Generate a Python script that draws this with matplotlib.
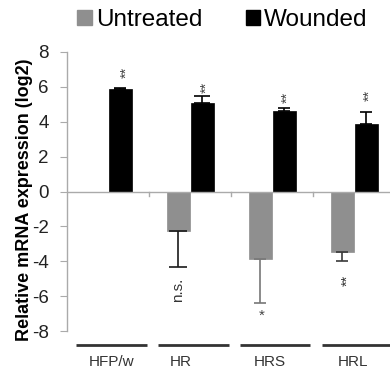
import matplotlib
matplotlib.use("Agg")
import matplotlib.pyplot as plt
from matplotlib.patches import Patch
import numpy as np

categories = ["HFP/w", "HR", "HRS", "HRL"]
untreated = [0.0, -2.24, -3.85, -3.45]
untreated_err = [0.0, 2.1, 2.52, 0.55]
wounded = [5.88, 5.05, 4.63, 3.85]
wounded_err = [0.05, 0.42, 0.17, 0.72]
wounded_sig = ["**", "**", "**", "**"]
untreated_sig = ["", "n.s.", "*", "**"]
yticks = [-8, -6, -4, -2, 0, 2, 4, 6, 8]

plt.rcParams['font.family'] = ['Liberation Sans', 'DejaVu Sans']

W, H = 390, 369
fig = plt.figure(figsize=(W/100, H/100), dpi=100)
left, right = 67, 390
bottom, top = 331, 52
ax = fig.add_axes([left/W, (H-bottom)/H, (right-left)/W, (bottom-top)/H])

x = np.arange(len(categories))
bw = 0.28
gx = x - 0.14
wx = x + 0.15
gray = "#8f8f8f"
ax.bar(gx, untreated, bw, color=gray, edgecolor=gray, linewidth=0.5)
ax.bar(wx, wounded, bw, color="black", edgecolor="black", linewidth=0.5)

# one-sided error bars
u_ecol = ["#333333", "#1a1a1a", "#777777", "#3a3a3a"]
u_cap = [4, 6.5, 4, 4]
w_cap = [4, 5.5, 4, 4]
for i in range(len(categories)):
    if untreated_err[i] > 0:
        ax.errorbar(gx[i], untreated[i], yerr=[[untreated_err[i]], [0]],
                    fmt="none", ecolor=u_ecol[i], elinewidth=1.2,
                    capsize=u_cap[i], capthick=1.2)
    ax.errorbar(wx[i], wounded[i], yerr=[[0], [wounded_err[i]]],
                fmt="none", ecolor="black", elinewidth=1.2,
                capsize=w_cap[i], capthick=1.2)

# significance labels (gap above / below the error bar ends, in data units)
w_gap = [0.6, 0.2, 0.3, 0.6]
w_dx = [0.08, 0.05, 0.04, 0.04]
for i in range(len(categories)):
    ax.text(wx[i] + w_dx[i], wounded[i] + wounded_err[i] + w_gap[i], wounded_sig[i],
            rotation=90, ha="center", va="bottom", fontsize=10.5, color="#444444")
u_gap = [0, 0.6, 0.35, 0.8]
for i, s in enumerate(untreated_sig):
    if not s:
        continue
    yb = untreated[i] - untreated_err[i] - u_gap[i]
    if s == "*":
        ax.text(gx[i] + 0.01, yb, s, ha="center", va="top", fontsize=11, color="#444444")
    else:
        ax.text(gx[i] + (0.06 if i == 3 else 0.0), yb, s, rotation=90,
                ha="center", va="top", fontsize=10.5 if s == "**" else 11,
                color="#333333")

ax.set_xlim(-0.5, 3.44)
ax.set_ylim(-8, 8)
ax.set_yticks(yticks)
ax.set_yticklabels([str(v) for v in yticks], fontsize=13.5, color="#222222")
ax.tick_params(axis="y", length=5, color="#aaaaaa", pad=8)
ax.set_xticks([])
for s in ["top", "right", "bottom"]:
    ax.spines[s].set_visible(False)
ax.spines["left"].set_color("#aaaaaa")
ax.spines["left"].set_linewidth(1)

# zero line with category boundary ticks
ax.axhline(0, color="#aaaaaa", linewidth=1)
for b in [0.5, 1.5, 2.5]:
    ax.plot([b, b], [0, -0.25], color="#aaaaaa", linewidth=1)

ax.set_ylabel("Relative mRNA expression (log2)", fontsize=13, fontweight="bold")
ax.yaxis.set_label_coords(-0.105, 0.47)

# category lines and labels below
label_off = [0.04, -0.11, -0.02, -0.01]
for i, c in enumerate(categories):
    ax.plot([x[i] - 0.39, x[i] + 0.47], [-8.83, -8.83], color="#333333", linewidth=2,
            clip_on=False, solid_capstyle="butt")
    ax.text(x[i] + label_off[i], -9.75, c, ha="center", va="center", fontsize=11,
            color="#333333", clip_on=False)

handles = [Patch(facecolor=gray, edgecolor=gray), Patch(facecolor="black", edgecolor="black")]
fig.legend(handles, ["Untreated", "Wounded"], loc="center", bbox_to_anchor=(222.5/W, 1 - 20/H),
           ncol=2, frameon=False, fontsize=17.5, handlelength=0.6, handleheight=0.6,
           handletextpad=0.15, columnspacing=1.8, borderpad=0)

fig.savefig("out.png", dpi=100)
